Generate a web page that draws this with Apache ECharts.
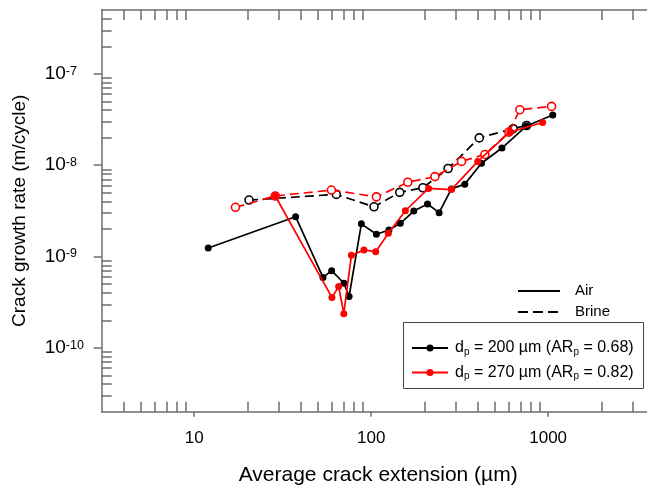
<!DOCTYPE html>
<html>
<head>
<meta charset="utf-8">
<script src="https://cdn.jsdelivr.net/npm/echarts@6/dist/echarts.min.js"></script>
<style>
html,body{margin:0;padding:0;background:#fff;}
#c{width:647px;height:495px;}
</style>
</head>
<body>
<div id="c"></div>
<script>
// ---- data ----
var airX200 = [12, 37.4, 53.4, 59.8, 70.2, 75, 88, 107, 126, 146, 174, 208, 242, 284, 338, 420, 548, 755, 1062];
var airY200 = [1.24e-9, 2.73e-9, 5.9e-10, 7.0e-10, 5.1e-10, 3.65e-10, 2.28e-9, 1.75e-9, 1.95e-9, 2.31e-9, 3.15e-9, 3.76e-9, 3.02e-9, 5.5e-9, 6.2e-9, 1.05e-8, 1.54e-8, 2.69e-8, 3.55e-8];

var airX270 = [28.7, 60, 65.5, 70, 77.3, 91, 106, 125, 156, 211, 284, 400, 607, 930];
var airY270 = [4.6e-9, 3.57e-10, 4.7e-10, 2.37e-10, 1.03e-9, 1.18e-9, 1.13e-9, 1.8e-9, 3.17e-9, 5.56e-9, 5.4e-9, 1.1e-8, 2.3e-8, 2.93e-8];

var brineX200 = [20.4, 63.5, 103.7, 145, 196, 272, 408, 634, 755];
var brineY200 = [4.15e-9, 4.79e-9, 3.5e-9, 5.04e-9, 5.66e-9, 9.2e-9, 1.99e-8, 2.51e-8, 2.72e-8];

var brineX270 = [17.1, 28.7, 59.6, 107, 161, 229, 324, 439, 600, 692, 1045];
var brineY270 = [3.46e-9, 4.6e-9, 5.34e-9, 4.5e-9, 6.5e-9, 7.5e-9, 1.1e-8, 1.31e-8, 2.3e-8, 4.05e-8, 4.4e-8];

var xMajorTicks = [10, 100, 1000];
var xMinorTicks = [4, 5, 6, 7, 8, 9, 20, 30, 40, 50, 60, 70, 80, 90, 200, 300, 400, 500, 600, 700, 800, 900, 2000, 3000];
var yMajorTicks = [1e-10, 1e-9, 1e-8, 1e-7];
var yMinorTicks = [3e-11, 4e-11, 5e-11, 6e-11, 7e-11, 8e-11, 9e-11,
  2e-10, 3e-10, 4e-10, 5e-10, 6e-10, 7e-10, 8e-10, 9e-10,
  2e-9, 3e-9, 4e-9, 5e-9, 6e-9, 7e-9, 8e-9, 9e-9,
  2e-8, 3e-8, 4e-8, 5e-8, 6e-8, 7e-8, 8e-8, 9e-8,
  2e-7, 3e-7, 4e-7];
var xRange = [3, 4000];
var yRange = [2e-11, 5e-7];

// ---- build ----
var L = Math.log10;
function pts(xs, ys) { return xs.map(function (x, i) { return [L(x), L(ys[i])]; }); }
var FONT = 'Liberation Sans, Arial, sans-serif';
var AX = '#6e6e6e';

var chart = echarts.init(document.getElementById('c'), null, {renderer: 'canvas'});

var xCommon = {type: 'value', min: L(xRange[0]), max: L(xRange[1]), gridIndex: 0, splitLine: {show: false}};
var yCommon = {type: 'value', min: L(yRange[0]), max: L(yRange[1]), gridIndex: 0, splitLine: {show: false}};

var option = {
  animation: false,
  textStyle: {fontFamily: FONT},
  grid: {left: 101.7, top: 10, width: 553, height: 401.7, containLabel: false, outerBoundsMode: 'none'},
  xAxis: [
    Object.assign({}, xCommon, {
      position: 'bottom',
      axisLine: {show: true, lineStyle: {color: AX, width: 1.5}},
      axisTick: {show: true, inside: false, length: 5, customValues: xMajorTicks.map(L), lineStyle: {color: AX, width: 1.5}},
      axisLabel: {show: true, customValues: xMajorTicks.map(L), margin: 18, color: '#000', fontSize: 17, fontFamily: FONT,
        formatter: function (v) { return String(Math.round(Math.pow(10, v))); }},
      name: 'Average crack extension (\u00b5m)', nameLocation: 'middle', nameGap: 53,
      nameTextStyle: {fontSize: 21, color: '#000', fontFamily: FONT}
    }),
    Object.assign({}, xCommon, {
      position: 'bottom',
      axisLine: {show: false},
      axisTick: {show: true, inside: true, length: 10, customValues: xMinorTicks.map(L), lineStyle: {color: AX, width: 1.5}},
      axisLabel: {show: false}
    }),
    Object.assign({}, xCommon, {
      position: 'top',
      axisLine: {show: true, lineStyle: {color: AX, width: 1.5}},
      axisTick: {show: true, inside: true, length: 10, customValues: xMinorTicks.map(L), lineStyle: {color: AX, width: 1.5}},
      axisLabel: {show: false}
    })
  ],
  yAxis: [
    Object.assign({}, yCommon, {
      position: 'left',
      axisLine: {show: true, lineStyle: {color: AX, width: 1.5}},
      axisTick: {show: true, inside: false, length: 8, customValues: yMajorTicks.map(L), lineStyle: {color: AX, width: 1.5}},
      axisLabel: {show: true, customValues: yMajorTicks.map(L), align: 'left', margin: 57,
        formatter: function (v) { return '{b|10}{s|' + Math.round(v) + '}'; },
        rich: {
          b: {fontSize: 19, lineHeight: 18, color: '#000', fontFamily: FONT},
          s: {fontSize: 12.5, lineHeight: 12, verticalAlign: 'top', color: '#000', fontFamily: FONT}
        }},
      name: 'Crack growth rate (m/cycle)', nameLocation: 'middle', nameGap: 72, nameRotate: 90,
      nameTextStyle: {fontSize: 19, color: '#000', fontFamily: FONT}
    }),
    Object.assign({}, yCommon, {
      position: 'left',
      axisLine: {show: false},
      axisTick: {show: true, inside: true, length: 10, customValues: yMinorTicks.map(L), lineStyle: {color: AX, width: 1.5}},
      axisLabel: {show: false}
    })
  ],
  series: [
    {type: 'line', name: 'Brine 200', data: pts(brineX200, brineY200), symbol: 'circle', symbolSize: 8,
      itemStyle: {color: '#fff', borderColor: '#000', borderWidth: 1.6},
      lineStyle: {color: '#000', width: 1.7, type: [9, 5]}, z: 2},
    {type: 'line', name: 'Brine 270', data: pts(brineX270, brineY270), symbol: 'circle', symbolSize: 8,
      itemStyle: {color: '#fff', borderColor: '#ff0000', borderWidth: 1.6},
      lineStyle: {color: '#ff0000', width: 1.7, type: [9, 5]}, z: 3},
    {type: 'line', name: 'Air 200', data: pts(airX200, airY200), symbol: 'circle', symbolSize: 7,
      itemStyle: {color: '#000'}, lineStyle: {color: '#000', width: 1.7}, z: 4},
    {type: 'line', name: 'Air 270', data: pts(airX270, airY270), symbol: 'circle', symbolSize: 7,
      itemStyle: {color: '#ff0000'}, lineStyle: {color: '#ff0000', width: 1.7}, z: 5}
  ],
  graphic: [
    {type: 'line', shape: {x1: 518, y1: 291, x2: 560, y2: 291}, style: {stroke: '#000', lineWidth: 2}, z: 10},
    {type: 'text', x: 575, y: 291, style: {text: 'Air', font: '15px ' + FONT, fill: '#000', verticalAlign: 'middle', textVerticalAlign: 'middle'}, z: 10},
    {type: 'line', shape: {x1: 518, y1: 312, x2: 560, y2: 312}, style: {stroke: '#000', lineWidth: 2, lineDash: [10, 5]}, z: 10},
    {type: 'text', x: 575, y: 312, style: {text: 'Brine', font: '15px ' + FONT, fill: '#000', verticalAlign: 'middle', textVerticalAlign: 'middle'}, z: 10},
    {type: 'rect', shape: {x: 403.5, y: 322.5, width: 240, height: 66}, style: {fill: '#fff', stroke: '#444', lineWidth: 1}, z: 10},
    {type: 'line', shape: {x1: 412, y1: 348, x2: 448, y2: 348}, style: {stroke: '#000', lineWidth: 2}, z: 11},
    {type: 'circle', shape: {cx: 430, cy: 348, r: 3.5}, style: {fill: '#000'}, z: 11},
    {type: 'text', x: 455, y: 348, z: 11, style: {
      text: '{a|d}{p|p}{a| = 200 \u00b5m (AR}{p|p}{a| = 0.68)}', verticalAlign: 'middle', textVerticalAlign: 'middle',
      rich: {a: {fontSize: 16, lineHeight: 18, fill: '#000', fontFamily: FONT}, p: {fontSize: 10, lineHeight: 10, verticalAlign: 'bottom', fill: '#000', fontFamily: FONT}}}},
    {type: 'line', shape: {x1: 412, y1: 372.5, x2: 448, y2: 372.5}, style: {stroke: '#ff0000', lineWidth: 2}, z: 11},
    {type: 'circle', shape: {cx: 430, cy: 372.5, r: 3.5}, style: {fill: '#ff0000'}, z: 11},
    {type: 'text', x: 455, y: 372.5, z: 11, style: {
      text: '{a|d}{p|p}{a| = 270 \u00b5m (AR}{p|p}{a| = 0.82)}', verticalAlign: 'middle', textVerticalAlign: 'middle',
      rich: {a: {fontSize: 16, lineHeight: 18, fill: '#000', fontFamily: FONT}, p: {fontSize: 10, lineHeight: 10, verticalAlign: 'bottom', fill: '#000', fontFamily: FONT}}}}
  ]
};
chart.setOption(option);
</script>
</body>
</html>
